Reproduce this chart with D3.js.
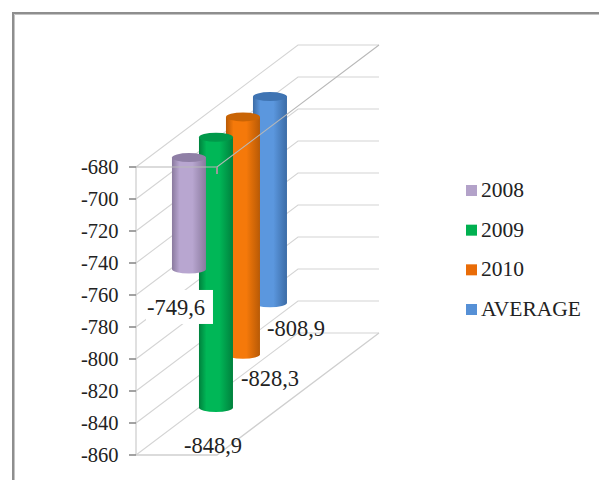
<!DOCTYPE html>
<html>
<head>
<meta charset="utf-8">
<script src="https://cdn.jsdelivr.net/npm/d3@7"></script>
<style>
  html, body { margin: 0; padding: 0; background: #fff; }
  svg { display: block; }
  text { font-family: "Liberation Serif", serif; fill: #222; }
</style>
</head>
<body>
<svg id="chart" width="599" height="480"></svg>
<script>
const seriesNames = ["2008", "2009", "2010", "AVERAGE"];
const seriesValues = [-749.6, -848.9, -828.3, -808.9];
const barTops = [-680, -680, -680, -680];
const tickValues = [-680, -700, -720, -740, -760, -780, -800, -820, -840, -860];
const bodyColors = ["#b8a6d0", "#00b757", "#f5790a", "#5b97de"];
const edgeColors = ["#8a7a9e", "#00813d", "#b85a06", "#3c6ca6"];
const capColors = ["#8f7fa6", "#00994a", "#c96405", "#3f74b3"];

const svg = d3.select("#chart");
const fmt = v => d3.format(".1f")(v).replace(".", ",").replace("\u2212", "-");

// Oblique projection: value runs down the wall, depth shifts up and to the right.
const y = d3.scaleLinear().domain([-680, -860]).range([167, 455]);
const depth = d3.scaleLinear().domain([0, 1]).range([0, 1]);
const wallLeft = 136, wallFront = 217, depthDx = 162, depthDy = -122;
const px = (x, t) => x + depth(t) * depthDx;
const py = (v, t) => y(v) + depth(t) * depthDy;
const seriesDepth = d3.scaleLinear().domain([0, 3]).range([0.077, 0.577]);
const barAnchor = wallLeft + 40.5;
const barRx = 17, barRy = 4.5;

// Frame around the plot area
const frame = svg.append("g").attr("fill", "none");
frame.append("path").attr("d", "M13,480V13H599").attr("stroke", "#8e8e8e").attr("stroke-width", 2);
frame.append("path").attr("d", "M14.5,480V14.5H599").attr("stroke", "#c4c4c4").attr("stroke-width", 1);

// Side wall and back wall gridlines
const grid = svg.append("g").attr("fill", "none").attr("stroke", "#d4d4d4").attr("stroke-width", 1.1);
grid.selectAll("path").data(tickValues).join("path")
  .attr("d", v => d3.line()([
    [wallLeft, y(v)],
    [px(wallLeft, 1), py(v, 1)],
    [px(wallFront, 1), py(v, 1)]
  ]));

// Vertical axis line and floor edges
const walls = svg.append("g").attr("fill", "none").attr("stroke", "#cfcfcf").attr("stroke-width", 1.3);
walls.append("line").attr("x1", wallLeft).attr("x2", wallLeft).attr("y1", y(-680)).attr("y2", y(-860));
walls.append("path").attr("d", d3.line()([
  [wallLeft, y(-860)], [wallFront, y(-860)], [px(wallFront, 1), py(-860, 1)]
]));

// Gradients giving the cylinders their rounded shading
const defs = svg.append("defs");
seriesNames.forEach((name, i) => {
  const g = defs.append("linearGradient").attr("id", "cyl" + i);
  [[0, edgeColors[i]], [0.22, bodyColors[i]], [0.6, bodyColors[i]], [1, edgeColors[i]]].forEach(([o, c]) => {
    g.append("stop").attr("offset", o).attr("stop-color", c);
  });
});

// Cylinders, drawn from the back series forwards so nearer ones overlap correctly
const order = d3.range(seriesNames.length).reverse();
const bars = svg.append("g");
order.forEach(i => {
  const t = seriesDepth(i);
  const cx = px(barAnchor, t);
  const yTop = py(barTops[i], t);
  const yBottom = py(seriesValues[i], t);
  const g = bars.append("g");
  g.append("path")
    .attr("d", `M${cx - barRx},${yTop}V${yBottom}A${barRx},${barRy} 0 0 0 ${cx + barRx},${yBottom}V${yTop}Z`)
    .attr("fill", `url(#cyl${i})`);
  g.append("ellipse")
    .attr("cx", cx).attr("cy", yTop).attr("rx", barRx).attr("ry", barRy)
    .attr("fill", capColors[i]);
});

// Front edges of the top plane pass in front of the cylinders
const topEdge = svg.append("g").attr("fill", "none").attr("stroke", "#b8b8b8").attr("stroke-width", 1.1);
topEdge.append("path").attr("d", d3.line()([
  [wallLeft, y(-680)], [wallFront, y(-680)], [px(wallFront, 1), py(-680, 1)]
]));
svg.append("line")
  .attr("x1", wallFront).attr("x2", wallFront)
  .attr("y1", y(-680)).attr("y2", y(-680) + 7)
  .attr("stroke", "#9a9a9a").attr("stroke-width", 2);

// Axis ticks and labels
const axis = svg.append("g");
axis.selectAll("line").data(tickValues).join("line")
  .attr("x1", wallLeft - 7).attr("x2", wallLeft)
  .attr("y1", d => y(d)).attr("y2", d => y(d))
  .attr("stroke", "#8c8c8c").attr("stroke-width", 1.6);
axis.selectAll("text").data(tickValues).join("text")
  .attr("x", 118.5).attr("y", d => y(d) + 7)
  .attr("text-anchor", "end").attr("font-size", 20.5)
  .text(d => String(d));

// Value labels, the first one on a white plate over the green cylinder
const labelShift = [[-13, 46], [-3, 45], [27, 32], [26, 33]];
svg.append("rect")
  .attr("x", px(barAnchor, seriesDepth(0)) - 43)
  .attr("y", py(seriesValues[0], seriesDepth(0)) + 21)
  .attr("width", 67).attr("height", 34).attr("fill", "#fff");
svg.append("g").selectAll("text").data(seriesValues).join("text")
  .attr("x", (d, i) => px(barAnchor, seriesDepth(i)) + labelShift[i][0])
  .attr("y", (d, i) => py(d, seriesDepth(i)) + labelShift[i][1])
  .attr("text-anchor", "middle").attr("font-size", 22.5)
  .text(d => fmt(d));

// Legend
const legendY = d3.scalePoint().domain(seriesNames).range([190.5, 309.5]);
const legend = svg.append("g").selectAll("g").data(seriesNames).join("g")
  .attr("transform", d => `translate(466,${legendY(d)})`);
legend.append("rect").attr("x", 0).attr("y", -5.5).attr("width", 11).attr("height", 11)
  .attr("fill", (d, i) => ["#b3a2c9", "#00b050", "#e96c07", "#5690d6"][i]);
legend.append("text").attr("x", 15).attr("y", 6.5).attr("font-size", 21.5).text(d => d);
</script>
</body>
</html>
